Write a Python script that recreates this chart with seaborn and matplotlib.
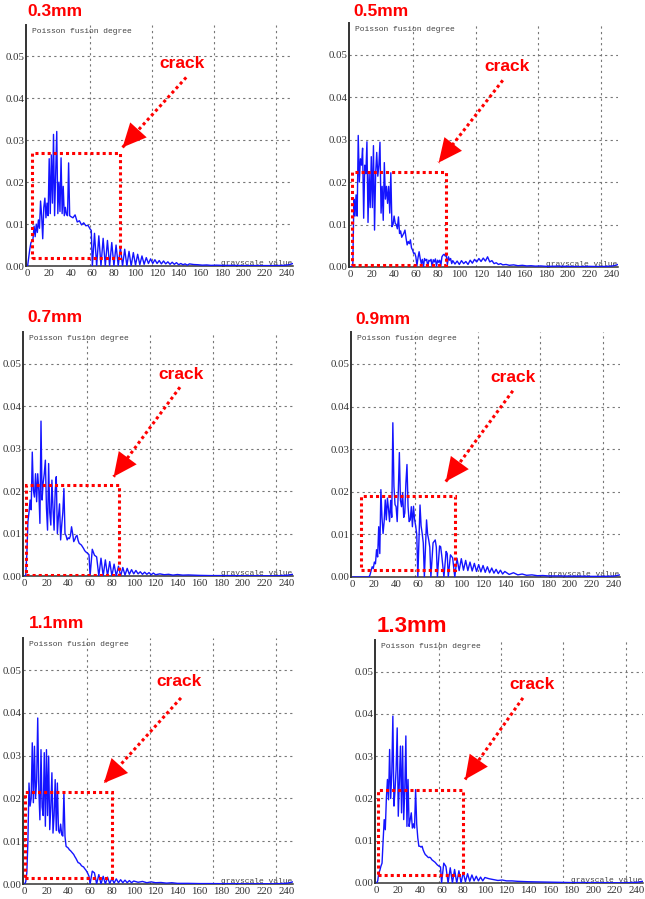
import numpy as np
import matplotlib.pyplot as plt
import seaborn as sns
from matplotlib.patches import Rectangle
from matplotlib.ticker import FormatStrFormatter

sns.set_style("white")
plt.rcParams['font.family'] = ['Liberation Serif', 'DejaVu Serif']

# grey-level histograms, y values in units of 0.001
x03 = [0, 2, 3] + list(range(5, 41)) + [42, 44, 46, 48, 50, 52, 54, 56, 58, 59, 60] + list(range(62, 151, 2)) + \
      [154, 158, 162, 166, 170, 175, 180, 190, 200, 210, 220, 230, 238, 242, 246]
y03 = [0, 4, 5.5, 6.5, 9.5, 7, 10, 8, 11, 9, 15.5, 12, 6.5, 14, 16.2, 11.5, 15, 12, 25.6, 12.5, 26.5, 15, 31.4, 12,
       22, 32.1, 12.5, 20, 13, 25.8, 12.5, 19, 12, 14, 12.3, 12, 24.6, 12, 11.8,
       11.5, 12.2, 10.5, 10.8, 9.8, 10.3, 9.6, 9.7, 8.8, 8.5, 0,
       7.8, 0, 7.2, 0, 6.6, 0, 6.1, 0, 5.6, 0, 5.0, 0, 4.5, 0, 4.0, 0, 3.5, 0, 3.2,
       0.2, 2.8, 0.3, 2.4, 0.4, 2.0, 0.6, 1.7, 0.6, 1.5, 0.6, 1.3, 0.5, 1.2, 0.5, 1.0, 0.4, 0.9, 0.4, 0.8, 0.3, 0.6,
       0.3, 0.5, 0.2, 0.5,
       0.35, 0.3, 0.2, 0.25, 0.15, 0.2, 0.15, 0.15, 0.1, 0.1, 0.1, 0.1, 0.15, 0.3, 0.6]

x05 = list(range(95)) + list(range(96, 141, 2)) + \
      [143, 146, 150, 154, 158, 162, 166, 170, 175, 180, 190, 200, 210, 220, 230, 240, 245, 248]
y05 = [0, 0, 0.5, 16, 12, 17, 12, 31, 20, 25.5, 24, 28, 11.5, 24, 22, 29.5, 10.5, 22, 14, 26, 14, 28.6, 8.7, 22, 27,
       21.4, 24, 29.4, 12.7, 19, 11, 24.6, 16, 19, 15, 19, 12.7, 22.2, 9.5, 10, 12, 10.3, 10, 9, 11.8, 7.9, 8.5, 7,
       7.5, 8, 8.7, 6.8, 5.2, 6, 5.5, 6.4, 4.5, 4, 3.2, 3.3, 2.4, 0.3, 2.2, 3.6, 2, 0.8, 1.8, 0, 2, 1.5, 1.8, 0, 1.6,
       1.4, 1.8, 0, 1.7, 1.2, 1.9, 0.2, 1.6, 1.1, 1.6, 0.3, 2.4, 2.8, 3.0, 2.6, 2.8, 0.5, 2.4, 1.6, 2.0, 0.8, 1.5,
       0.7, 1.4, 0.6, 1.5, 0.8, 1.3, 0.6, 1.6, 0.9, 1.8, 1.2, 2.0, 1.3, 2.1, 1.4, 2.4, 1.2, 1.5, 0.8, 1.0, 0.6, 0.8,
       0.5, 0.6, 0.4, 0.5, 0.3, 0.4, 0.25, 0.3, 0.2, 0.25, 0.15, 0.2, 0.15, 0.1, 0.15, 0.1, 0.2, 0.5, 0.8]

x07 = list(range(61)) + list(range(62, 121, 2)) + \
      [124, 128, 132, 136, 140, 145, 150, 160, 170, 180, 190, 200, 210, 220, 230, 240, 246]
y07 = [0, 0.2, 5, 12.8, 15, 17.9, 15.6, 29.2, 20.2, 18.6, 24.1, 17.5, 24.1, 20, 12.4, 36.5, 17.9, 22, 24.1, 27.3,
       16, 10.8, 26.5, 15, 12, 22.6, 16, 10.8, 20, 23.4, 10, 14, 17, 8.5, 12, 15, 20.6, 10, 9.5, 8.5, 9, 8.8, 9.5,
       11.6, 10, 8.1, 8.6, 9.3, 9.6, 8.4, 7.7, 7.5, 7.3, 6.9, 6.5, 6.0, 5.7, 5.5, 5.3, 5.0, 0,
       6.3, 4.9, 4.5, 0, 4.2, 0, 3.8, 0, 3.4, 0, 2.8, 0, 2.3, 0, 2.0, 0.2, 1.8, 0.4, 1.5, 0.5, 1.3, 0.5, 1.0, 0.4,
       0.9, 0.4, 0.8, 0.3, 0.7, 0.3,
       0.5, 0.3, 0.4, 0.2, 0.35, 0.2, 0.25, 0.15, 0.1, 0.1, 0.1, 0.05, 0.05, 0.05, 0.05, 0.15, 0.4]

x09 = list(range(61)) + [62, 63, 64, 65, 66, 68, 69, 70, 71, 72, 74, 76, 77, 78, 80, 81, 82, 84, 86, 87, 88, 90,
                         92, 94] + list(range(96, 141, 2)) + \
      [144, 148, 152, 156, 160, 165, 170, 175, 180, 190, 200, 210, 220, 230, 240, 246]
y09 = [0, 0, 0, 0, 0, 0, 0, 0, 0, 0, 0, 0, 0, 0, 0,
       0, 0.5, 1.5, 2.4, 2.0, 3.5, 3.1, 6.4, 4.7, 11.8, 5.5, 20.5, 14, 10.2, 13, 18.1, 13.4, 18.5, 16, 13, 18, 14,
       36.2, 21.3, 17, 16.5, 13, 20, 29.2, 18, 16.5, 19.7, 14, 15, 22, 26.4, 16.5, 13, 13.4, 16.5, 11.8, 16.6, 13.5,
       12, 10, 0,
       16.9, 12, 10.2, 8, 0, 13.4, 10, 8.7, 7, 0, 8.0, 8.7, 7, 0, 7.3, 7.1, 5, 0, 6.0, 5.5, 0, 5.2, 4.5, 0,
       4.4, 1.5, 4.3, 1.6, 3.9, 1.5, 3.5, 1.4, 3.2, 1.3, 2.9, 1.2, 2.7, 1.1, 2.4, 1.0, 2.1, 0.9, 1.8, 0.8, 1.6, 0.7,
       1.3,
       0.6, 1.0, 0.5, 0.7, 0.4, 0.5, 0.3, 0.35, 0.25, 0.25, 0.2, 0.2, 0.15, 0.15, 0.2, 0.5]

x11 = list(range(61)) + list(range(62, 101, 2)) + \
      [104, 108, 112, 116, 120, 125, 130, 135, 140, 150, 160, 170, 180, 190, 200, 210, 220, 230, 240, 246]
y11 = [0, 0.5, 2.6, 10, 23.6, 18.2, 20, 33, 19, 32.2, 20, 24, 38.8, 22, 15, 31.4, 18, 16, 30.7, 13.5, 31.4, 16,
       29.9, 12.7, 18, 26, 11.9, 16, 24.4, 12.5, 23.6, 12.5, 11.9, 14, 11.5, 11.2, 21.3, 11.1, 8.8, 8.6, 8.4, 8.0,
       7.8, 7.5, 7.2, 6.9, 6.4, 6.0, 5.5, 5.0, 4.9, 4.7, 4.3, 4.1, 4.0, 3.6, 3.3, 2.9, 2.4, 1.8, 0,
       3.0, 2.6, 0, 2.2, 0, 1.8, 0, 1.6, 0.1, 1.3, 0.2, 1.2, 0.3, 1.0, 0.3, 0.9, 0.3, 0.8, 0.3, 0.7,
       0.4, 0.6, 0.3, 0.5, 0.3, 0.35, 0.2, 0.3, 0.15, 0.15, 0.1, 0.1, 0.08, 0.08, 0.05, 0.05, 0.05, 0.05, 0.15, 0.5]

x13 = list(range(61)) + list(range(62, 101, 2)) + \
      [104, 108, 112, 116, 120, 125, 130, 135, 140, 150, 160, 170, 180, 190, 200, 210, 220, 230, 240, 246]
y13 = [0, 0.5, 2.4, 3, 4, 4.7, 10, 15, 12.6, 20, 24.5, 19.7, 31.6, 20, 26, 39.5, 18.2, 22, 26.9, 36.7, 15.8, 24,
       32.4, 16.6, 32.4, 15, 22, 34.8, 13.4, 24.5, 13.4, 15, 16.6, 13, 14, 13, 22.1, 14, 10.7, 8.7, 8.7, 8.5, 8.7,
       7.8, 7.2, 6.7, 6.5, 6.2, 6.0, 6.1, 5.9, 5.5, 5.3, 5.1, 4.9, 4.6, 4.3, 4.1, 3.9, 3.8, 0,
       4.7, 3.9, 0, 3.6, 0, 3.2, 0, 2.9, 0, 2.5, 0.3, 2.2, 0.4, 1.9, 0.5, 1.6, 0.5, 1.4, 0.5, 1.3,
       1.0, 0.8, 0.6, 0.7, 0.5, 0.5, 0.4, 0.35, 0.3, 0.25, 0.2, 0.15, 0.1, 0.1, 0.08, 0.08, 0.05, 0.05, 0.15, 0.4]

titles = ["0.3mm", "0.5mm", "0.7mm", "0.9mm", "1.1mm", "1.3mm"]
curves = [(x03, y03), (x05, y05), (x07, y07), (x09, y09), (x11, y11), (x13, y13)]

# dotted "crack" boxes (grey level, 0.001 units)
box_x0 = [3.7, 1.5, 0.9, 7.7, 0.6, 0.9]
box_x1 = [85.6, 87.9, 86.3, 94.4, 80.4, 80.2]
box_y0 = [1.9, 0.4, 0.3, 1.6, 1.4, 1.8]
box_y1 = [27.0, 22.5, 21.5, 19.1, 21.5, 22.0]
arrow_start = [(147, 45.0), (140, 44.0), (142.4, 44.5), (147.4, 43.7), (143.3, 43.5), (135.1, 43.8)]
arrow_tip = [(88, 28.3), (81, 24.6), (81.6, 23.4), (85.7, 22.4), (72.7, 23.6), (81.7, 24.5)]
crack_pos = [(143, 48.2), (143.8, 47.2), (143.3, 47.5), (147.4, 46.9), (141.8, 47.4), (143.4, 47.0)]

W, H = 645, 899
# axes frames in pixels: left, top, right, bottom
frames = [(26, 25, 293, 266), (349, 23, 618, 267), (23, 332, 293, 576),
          (351, 332, 620, 577), (23, 638, 293, 884), (375, 640, 643, 883)]
title_pos = [(27, 11), (353, 12), (27, 317), (355, 319), (29, 624), (377, 626)]
title_size = [12.5, 12.5, 12.5, 12.5, 12.5, 16]

RED = '#ff0000'
fig = plt.figure(figsize=(W / 100, H / 100), dpi=100)

for i, (xs, ys) in enumerate(curves):
    L, T, R, B = frames[i]
    ax = fig.add_axes([L / W, 1 - B / H, (R - L) / W, (B - T) / H])
    sns.lineplot(x=xs, y=np.array(ys) / 1000, ax=ax, color='#1414ff', lw=1.0,
                 estimator=None, sort=False, zorder=3)
    ax.set_xlim(-1.5, 246)
    ax.set_ylim(0, 0.0575)
    ax.set_xticks(range(0, 241, 20))
    ax.set_xticks([57.5, 115, 172.5, 230], minor=True)
    ax.set_yticks([0, 0.01, 0.02, 0.03, 0.04, 0.05])
    ax.yaxis.set_major_formatter(FormatStrFormatter('%.2f'))
    ax.tick_params(which='both', length=0, labelsize=7.8, colors='#333333')
    ax.tick_params(axis='y', pad=1)
    ax.tick_params(axis='x', pad=2.5)
    ax.set_axisbelow(True)
    ax.grid(which='minor', axis='x', color='#777777', lw=0.8, ls=(0, (2, 3)))
    ax.grid(which='major', axis='y', color='#777777', lw=0.8, ls=(0, (2, 3)))
    ax.grid(which='major', axis='x', visible=False)
    ax.set_xlabel('')
    ax.set_ylabel('')
    for s in ['top', 'right']:
        ax.spines[s].set_visible(False)
    ax.spines['left'].set_color('#333333')
    ax.spines['left'].set_linewidth(1.4)
    ax.spines['bottom'].set_color('#333333')
    ax.spines['bottom'].set_linewidth(1.1)

    ax.text(0.022, 0.988, 'Poisson fusion degree', transform=ax.transAxes, family='Liberation Mono',
            fontsize=5.8, color='#444444', va='top', ha='left')
    ax.text(0.997, 0.006, 'grayscale value', transform=ax.transAxes, family='Liberation Mono',
            fontsize=5.8, color='#444444', va='baseline', ha='right', zorder=2)

    ax.add_patch(Rectangle((box_x0[i], box_y0[i] / 1000), box_x1[i] - box_x0[i], (box_y1[i] - box_y0[i]) / 1000,
                           fill=False, ec=RED, lw=2.2, ls=(0, (1, 1)), zorder=4))
    # dotted shaft, then a filled head on top
    sx, sy = arrow_start[i]
    tx, ty = arrow_tip[i]
    ax.plot([sx, tx], [sy / 1000, ty / 1000], color=RED, lw=2.2, ls=(0, (1, 1)),
            solid_capstyle='butt', dash_capstyle='butt', zorder=4)
    ax.annotate('', xy=(tx, ty / 1000), xytext=(sx, sy / 1000),
                arrowprops=dict(arrowstyle='-|>,head_length=0.85,head_width=0.4', fc=RED, ec=RED, lw=0.01,
                                shrinkA=0, shrinkB=0, mutation_scale=20), zorder=5)
    ax.text(crack_pos[i][0], crack_pos[i][1] / 1000, 'crack', color=RED, fontsize=12.5,
            fontweight='bold', family='Liberation Sans', ha='center', va='center')

    tx0, ty0 = title_pos[i]
    fig.text(tx0 / W, 1 - ty0 / H, titles[i], color=RED, fontsize=title_size[i], fontweight='bold',
             family='Liberation Sans', ha='left', va='center')

fig.savefig('out.png', dpi=100)
